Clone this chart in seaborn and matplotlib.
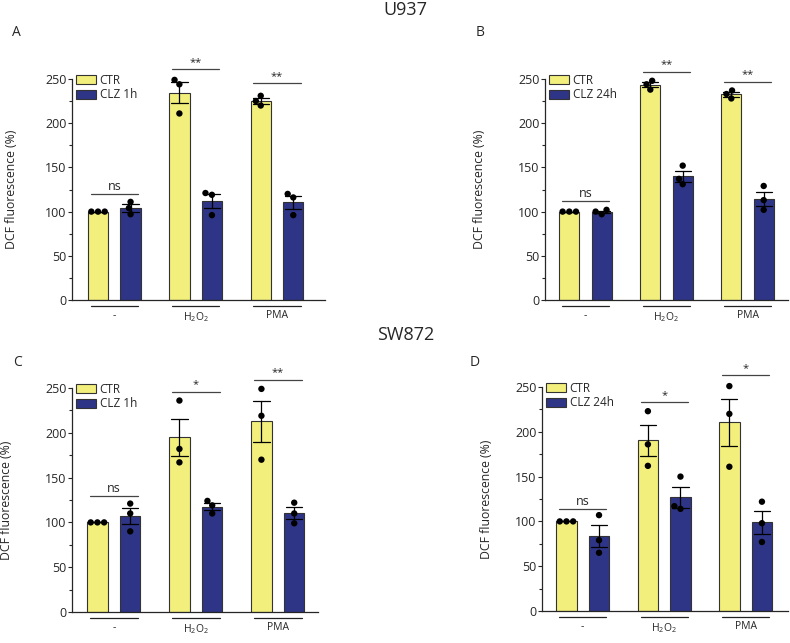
import numpy as np
import pandas as pd
import matplotlib
matplotlib.use("Agg")
import matplotlib.pyplot as plt
from matplotlib.ticker import MultipleLocator
import seaborn as sns

# ---------------- data (replicate values, % DCF fluorescence) ----------------
groups = ["-", "H2O2", "PMA"]
group_labels = ["-", "H$_2$O$_2$", "PMA"]
treat_1h = ["CTR", "CLZ 1h"]
treat_24h = ["CTR", "CLZ 24h"]

# Panel A: U937, CLZ 1h
a_ctr = [[100, 100, 100], [249, 244, 211], [225, 231, 220]]
a_clz = [[111, 104, 97], [121, 119, 96], [120, 116, 96]]
a_sig = ["ns", "**", "**"]
a_sig_y = [120, 261, 245]

# Panel B: U937, CLZ 24h
b_ctr = [[100, 100, 100], [244, 248, 238], [237, 233, 228]]
b_clz = [[102, 100, 97], [152, 137, 131], [129, 113, 102]]
b_sig = ["ns", "**", "**"]
b_sig_y = [112, 258, 247]

# Panel C: SW872, CLZ 1h
c_ctr = [[100, 100, 100], [236, 182, 167], [249, 219, 170]]
c_clz = [[121, 110, 90], [124, 119, 110], [122, 110, 99]]
c_sig = ["ns", "*", "**"]
c_sig_y = [129, 246, 259]

# Panel D: SW872, CLZ 24h
d_ctr = [[100, 100, 100], [223, 186, 162], [251, 220, 161]]
d_clz = [[107, 79, 65], [150, 117, 114], [122, 98, 77]]
d_sig = ["ns", "*", "*"]
d_sig_y = [114, 233, 263]

yellow = "#F2EF7C"
navy = "#2E3586"

# ---------------- style ----------------
sns.set_style("ticks")
plt.rcParams["font.family"] = ["Open Sans", "DejaVu Sans"]
plt.rcParams["mathtext.fontset"] = "custom"
plt.rcParams["mathtext.rm"] = "Open Sans"
plt.rcParams["mathtext.it"] = "Open Sans"
plt.rcParams["axes.linewidth"] = 0.9

W, H = 790, 643
fig = plt.figure(figsize=(W / 100, H / 100), dpi=100)


def rect(x0, x1, ytop, ybot):
    return [x0 / W, 1 - ybot / H, (x1 - x0) / W, (ybot - ytop) / H]


def make_df(ctr, clz, treats):
    rows = []
    for g, vals in zip(groups, ctr):
        for v in vals:
            rows.append((g, treats[0], v))
    for g, vals in zip(groups, clz):
        for v in vals:
            rows.append((g, treats[1], v))
    return pd.DataFrame(rows, columns=["group", "treatment", "value"])


def panel(r, ctr, clz, treats, sig, sig_y, xlim, ylab_x):
    ax = fig.add_axes(r)
    df = make_df(ctr, clz, treats)
    pal = {treats[0]: yellow, treats[1]: navy}
    sns.barplot(data=df, x="group", y="value", hue="treatment", order=groups,
                hue_order=treats, palette=pal, width=0.8, gap=0.375,
                errorbar="se", capsize=0.4,
                err_kws={"color": "black", "linewidth": 0.9},
                edgecolor="#333333", linewidth=0.8, saturation=1, ax=ax)
    sns.swarmplot(data=df, x="group", y="value", hue="treatment", order=groups,
                  hue_order=treats, palette={treats[0]: "black", treats[1]: "black"},
                  dodge=True, size=4.6, legend=False, ax=ax, zorder=5)
    ax.set_ylim(0, 250)
    ax.set_xlim(*xlim)
    for coll in ax.collections:
        coll.set_clip_on(False)
    for ln in ax.lines:
        ln.set_clip_on(False)
    sns.despine(ax=ax)
    ax.spines["left"].set_bounds(0, 250)
    ax.yaxis.set_major_locator(MultipleLocator(50))
    ax.yaxis.set_minor_locator(MultipleLocator(25))
    ax.tick_params(axis="y", which="major", length=3, width=0.8, pad=1, labelsize=9)
    ax.tick_params(axis="y", which="minor", length=2, width=0.8)
    ax.tick_params(axis="x", length=0, pad=7.5, labelsize=7.5)
    ax.set_xticks(range(len(groups)))
    ax.set_xticklabels(group_labels)
    ax.set_xlabel("")
    ax.set_ylabel("DCF fluorescence (%)", fontsize=8.8)
    ax.yaxis.set_label_coords(ylab_x, 0.5)

    # group underlines
    trans = ax.get_xaxis_transform()
    hpx = r[3] * H
    for i in range(len(groups)):
        ax.plot([i - 0.29, i + 0.29], [-6 / hpx, -6 / hpx], transform=trans,
                color="#222222", lw=0.9, clip_on=False)
    # significance markers
    for i, (s, yv) in enumerate(zip(sig, sig_y)):
        ax.plot([i - 0.29, i + 0.29], [yv, yv], color="#444444", lw=0.9, clip_on=False)
        fs = 9 if s == "ns" else 8
        ax.text(i, yv + 1.5, s, ha="center", va="bottom", fontsize=fs, clip_on=False)

    h, l = ax.get_legend_handles_labels()
    ax.legend(h, l, loc="upper left", bbox_to_anchor=(0.0, 1.04), frameon=False,
              fontsize=8.5, handlelength=1.7, handleheight=0.75, handletextpad=0.35,
              labelspacing=0.15, borderaxespad=0.2, borderpad=0.1)
    return ax


panel(rect(72, 325, 79, 300), a_ctr, a_clz, treat_1h, a_sig, a_sig_y, (-0.52, 2.59), -0.213)
panel(rect(545, 788, 79, 300), b_ctr, b_clz, treat_24h, b_sig, b_sig_y, (-0.5, 2.5), -0.243)
panel(rect(72, 318, 388, 612), c_ctr, c_clz, treat_1h, c_sig, c_sig_y, (-0.51, 2.49), -0.24)
panel(rect(542, 788, 387, 611), d_ctr, d_clz, treat_24h, d_sig, d_sig_y, (-0.5, 2.52), -0.2)

fig.text(405 / W, 1 - 10 / H, "U937", ha="center", va="center", fontsize=13)
fig.text(406 / W, 1 - 335 / H, "SW872", ha="center", va="center", fontsize=13)
for lab, x, y in [("A", 16, 32), ("B", 480, 32), ("C", 18, 362), ("D", 475, 363)]:
    fig.text(x / W, 1 - y / H, lab, ha="center", va="center", fontsize=10)

fig.savefig("out.png", dpi=100)
